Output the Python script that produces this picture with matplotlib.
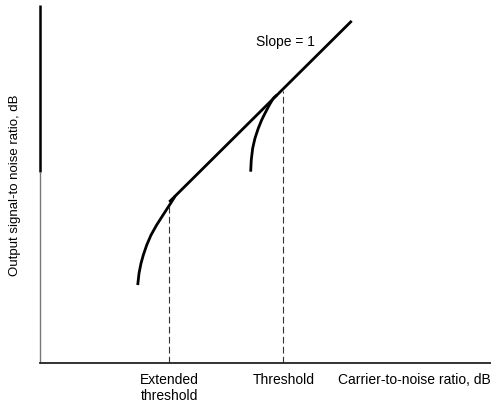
import matplotlib
matplotlib.use('Agg')

import matplotlib.pyplot as plt

plt.rcParams['font.family'] = ['Liberation Sans', 'DejaVu Sans']

# Carrier-to-noise (x) vs output signal-to-noise (y), both in dB
line_x = [12.9, 31.1]
line_y = [16.2, 34.4]

# Threshold-extension receiver curve (bends into the line at the extended threshold)
ext_x = [9.75, 9.88, 10.08, 10.31, 10.65, 11.08, 11.64, 12.30, 12.9, 13.5]
ext_y = [7.84, 9.02, 10.03, 10.86, 11.87, 12.87, 13.88, 14.92, 15.85, 16.8]

# Conventional receiver curve (bends into the line at the threshold)
conv_x = [21.02, 21.08, 21.22, 21.45, 21.78, 22.12, 22.45, 22.88, 23.28, 23.62]
conv_y = [19.24, 20.41, 21.59, 22.60, 23.60, 24.44, 25.11, 25.94, 26.62, 26.94]

threshold_x = [12.9, 24.28]
threshold_top = [15.9, 27.4]
threshold_labels = ['Extended\nthreshold', 'Threshold']

fig = plt.figure(figsize=(4.91, 4.05), dpi=100)
ax = fig.add_axes([40 / 491, 42 / 405, 451 / 491, 358 / 405])
ax.set_xlim(0, 45)
ax.set_ylim(0, 36)

for xs, ys in [(line_x, line_y), (ext_x, ext_y), (conv_x, conv_y)]:
    ax.plot(xs, ys, color='black', lw=2.0, solid_capstyle='butt',
            solid_joinstyle='round')

for x, top in zip(threshold_x, threshold_top):
    ax.plot([x, x], [0, top], color='#333333', lw=0.8, dashes=(6, 3))

ax.text(24.45, 32.3, 'Slope = 1', fontsize=10, ha='center', va='center')

ax.set_xticks(threshold_x)
ax.set_xticklabels(threshold_labels, fontsize=10, va='top', linespacing=1.2)
ax.tick_params(axis='x', length=0, pad=7)
ax.set_yticks([])
ax.set_ylabel('Output signal-to noise ratio, dB', fontsize=9.5)
ax.yaxis.set_label_coords(-0.042, 0.497)

ax.text(1.0, -0.047, 'Carrier-to-noise ratio, dB', fontsize=10, ha='right',
        va='center', transform=ax.transAxes)

# vertical axis: heavy upper part, lighter lower part
ax.plot([0, 0], [0.534, 1.0], color='black', lw=1.8, transform=ax.transAxes,
        clip_on=False, solid_capstyle='butt')
ax.plot([0, 0], [0.0, 0.534], color='#777777', lw=1.0, transform=ax.transAxes,
        clip_on=False, solid_capstyle='butt')

for side in ['top', 'right', 'left']:
    ax.spines[side].set_visible(False)
ax.spines['bottom'].set_linewidth(1.3)
ax.spines['bottom'].set_color('#222222')

fig.savefig('out.png', dpi=100)
